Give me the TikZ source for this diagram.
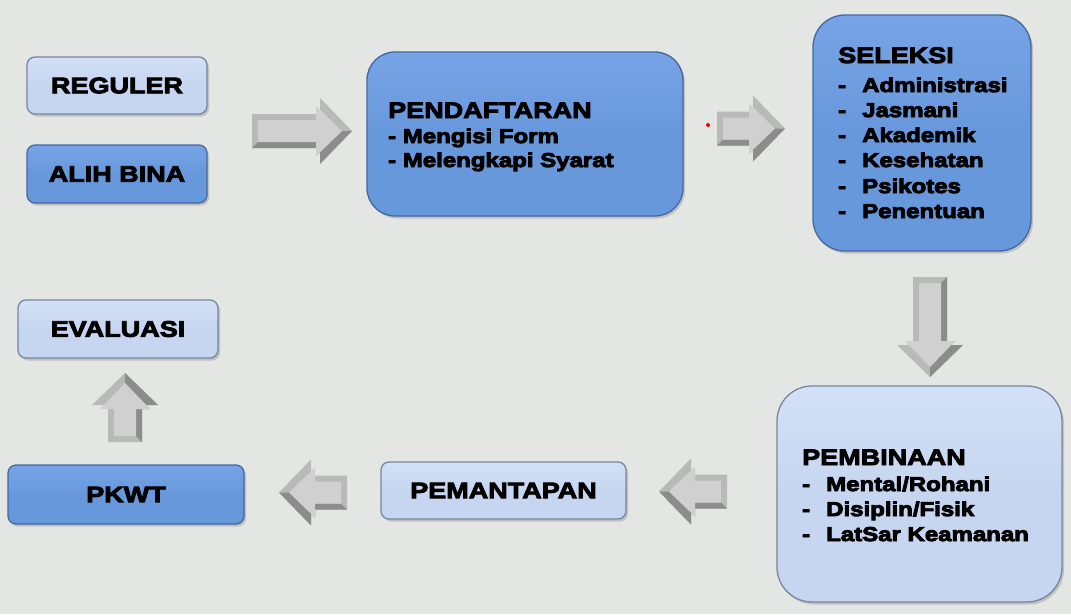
\documentclass[tikz,border=0pt]{standalone}
\usepackage{fontspec}
\usetikzlibrary{shadows}
\newfontfamily\wf{Liberation Sans}[UprightFont={* Bold},FakeStretch=1.2]
\newcommand\hv{\special{pdf:literal direct 2 Tr 0.9 w}}
\definecolor{bg}{RGB}{228,230,227}
\definecolor{dkblue}{RGB}{104,152,220}
\definecolor{dkblueTop}{RGB}{118,164,230}
\definecolor{dkrim}{RGB}{66,104,160}
\definecolor{ltblue}{RGB}{198,214,240}
\definecolor{ltblueTop}{RGB}{210,225,246}
\definecolor{ltrim}{RGB}{118,134,160}
\definecolor{armid}{RGB}{185,185,185}
\definecolor{ardark}{RGB}{140,140,140}
\definecolor{arlight}{RGB}{208,208,208}
\tikzset{
  box/.style={rounded corners=#1, line width=1.3pt, inner sep=0pt, text=black,
    drop shadow={shadow xshift=2pt, shadow yshift=-2.5pt, opacity=0.35}},
  dk/.style={top color=dkblueTop, bottom color=dkblue, middle color=dkblue, draw=dkrim},
  lt/.style={top color=ltblueTop, bottom color=ltblue, middle color=ltblue, draw=ltrim},
  head/.style={font=\wf\fontsize{22.5}{26}\selectfont\hv},
  item/.style={anchor=base west, inner sep=0pt, text=black, font=\wf\fontsize{20}{24}\selectfont\hv},
  title/.style={anchor=base west, inner sep=0pt, text=black, font=\wf\fontsize{22.5}{26}\selectfont\hv},
}
% #1 cx, #2 cy, #3 rotation, #4 length, #5 flip
\newcommand\blockarrow[5]{%
  \pgfmathsetmacro\barL{#4/2}%
  \pgfmathsetmacro\barH{#4/2-32}%
  \pgfmathsetmacro\barI{#4/2-36}%
  \pgfmathsetmacro\barT{#4/2-10}%
  \begin{scope}[shift={(#1,#2)}, rotate=#3, yscale=#5]
    \fill[armid] (-\barL,-17) -- (\barH,-17) -- (\barH,-33) -- (\barL,0) -- (\barH,33) -- (\barH,17) -- (-\barL,17) -- cycle;
    \fill[ardark] (-\barL,17) -- (-\barL+6,11) -- (\barI,11) -- (\barI,25) -- (\barT,0) -- (\barL,0) -- (\barH,33) -- (\barH,17) -- cycle;
    \fill[arlight] (-\barL+6,-11) -- (\barI,-11) -- (\barI,-25) -- (\barT,0) -- (\barI,25) -- (\barI,11) -- (-\barL+6,11) -- cycle;
  \end{scope}}
\begin{document}
\begin{tikzpicture}[x=1pt,y=-1pt]
\fill[bg] (0,0) rectangle (1071,614);
\useasboundingbox (0,0) rectangle (1071,614);

% boxes
\node[box=8, lt, minimum width=180pt, minimum height=57pt, head] (reg) at (117,85.5) {REGULER};
\node[box=8, dk, minimum width=180pt, minimum height=58pt, head] (alih) at (117,174) {ALIH BINA};
\node[box=28, dk, minimum width=316pt, minimum height=164pt] (pend) at (525,134) {};
\node[box=32, dk, minimum width=218pt, minimum height=236pt] (sel) at (922,133) {};
\node[box=35, lt, minimum width=285pt, minimum height=216pt] (pemb) at (919.5,494) {};
\node[box=8, lt, minimum width=245pt, minimum height=57pt, head] (pemant) at (503.5,490.5) {PEMANTAPAN};
\node[box=8, dk, minimum width=236pt, minimum height=59pt, head] (pkwt) at (126,494.5) {PKWT};
\node[box=8, lt, minimum width=200pt, minimum height=58pt, head] (eval) at (118,329) {EVALUASI};

% texts in large boxes
\node[title] (pendh) at (388,118) {PENDAFTARAN};
\node[item] (pend1) at (388,143) {- Mengisi Form};
\node[item] (pend2) at (388,167) {- Melengkapi Syarat};

\node[title] (selh) at (838,63) {SELEKSI};
\foreach \t/\yy [count=\i] in {Administrasi/92,Jasmani/117,Akademik/142,Kesehatan/167,Psikotes/193,Penentuan/218}{
  \node[item] (seld\i) at (838,\yy) {-};
  \node[item] (sel\i) at (862,\yy) {\t};
}

\node[title] (pembh) at (802,465) {PEMBINAAN};
\node[item] (pembd1) at (802,491) {-};
\node[item] (pemb1) at (826,491) {Mental/Rohani};
\node[item] (pembd2) at (802,516) {-};
\node[item] (pemb2) at (826,516) {Disiplin/Fisik};
\node[item] (pembd3) at (802,541) {-};
\node[item] (pemb3) at (826,541) {LatSar Keamanan};

% block arrows
\blockarrow{302}{131}{0}{100}{1}
\blockarrow{751}{128.5}{0}{68}{1}
\blockarrow{930}{327}{-90}{100}{-1}
\blockarrow{693}{491.5}{180}{68}{-1}
\blockarrow{313}{492.5}{180}{68}{-1}
\blockarrow{125}{407.5}{90}{69}{1}

% small red dot
\fill[red] (708,125) circle (2);
\end{tikzpicture}
\end{document}
